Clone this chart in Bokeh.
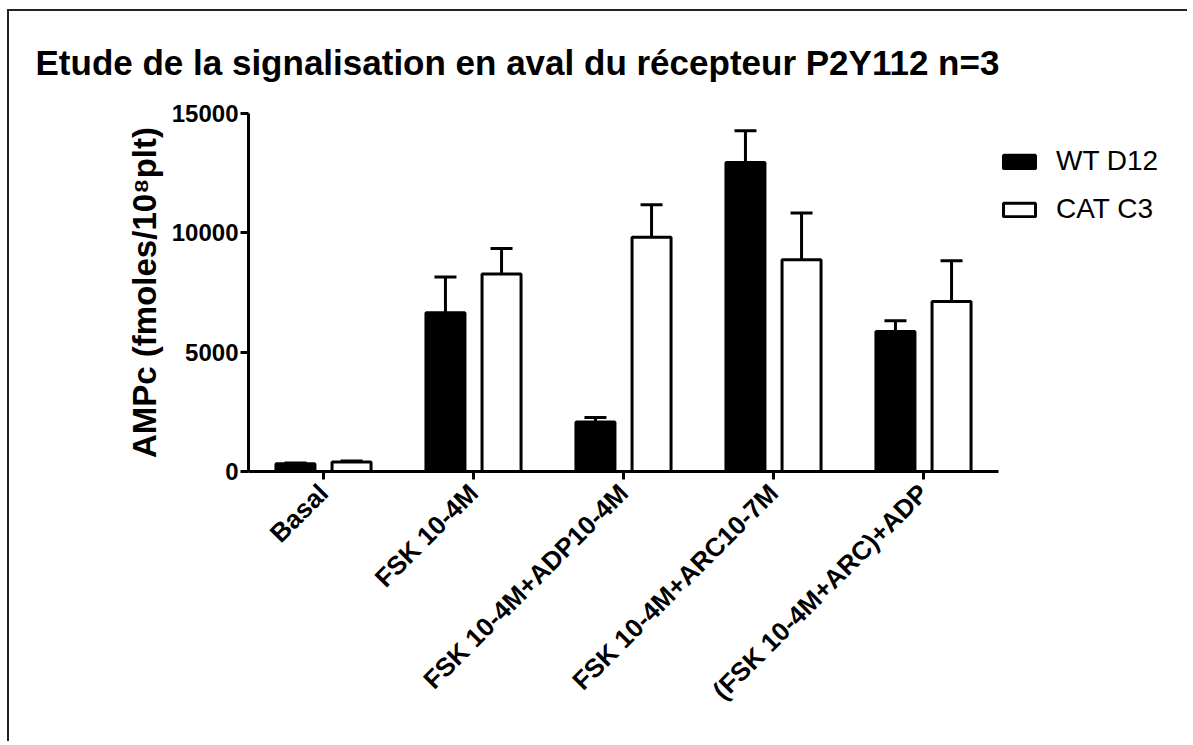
import math
from bokeh.plotting import figure
from bokeh.models import (ColumnDataSource, Range1d, FixedTicker, Whisker,
                          Legend, LegendItem, TeeHead)
from bokeh.transform import dodge
from bokeh.embed import file_html
from bokeh.resources import INLINE

# ---- data ----
categories = ["Basal", "FSK 10-4M", "FSK 10-4M+ADP10-4M", "FSK 10-4M+ARC10-7M", "(FSK 10-4M+ARC)+ADP"]
wt_mean = [320, 6650, 2070, 12950, 5870]
wt_err = [40, 1500, 190, 1330, 450]
cat_mean = [400, 8280, 9820, 8870, 7120]
cat_err = [40, 1060, 1360, 1960, 1710]
series_names = ["WT D12", "CAT C3"]
y_ticks = [0, 5000, 10000, 15000]
title_text = "Etude de la signalisation en aval du récepteur P2Y112 n=3"
y_label = "AMPc (fmoles/10⁸plt)"

FONT = "Liberation Sans"

idx = list(range(len(categories)))
src = ColumnDataSource(dict(
    xi=idx, cat=categories,
    wt=wt_mean, wt_lo=[m - e for m, e in zip(wt_mean, wt_err)], wt_hi=[m + e for m, e in zip(wt_mean, wt_err)],
    ct=cat_mean, ct_lo=[m - e for m, e in zip(cat_mean, cat_err)], ct_hi=[m + e for m, e in zip(cat_mean, cat_err)],
))

W, H = 1180, 732
FL, FT, FH = 239, 102, 358
UNIT = 150            # px per category
EXTRA = 1.2           # extra room (in category units) right of the axis for the legend
FW = int(UNIT * (len(categories) + EXTRA))

p = figure(x_range=Range1d(-0.5, len(categories) - 0.5 + EXTRA), y_range=Range1d(0, 15000),
           width=W, height=H, output_backend="svg", toolbar_location=None,
           min_border_left=FL, min_border_top=FT,
           min_border_right=W - FL - FW, min_border_bottom=H - FT - FH)
p.styles = {"border-top": "2px solid #222", "border-left": "2px solid #222",
            "margin-left": "7px", "margin-top": "9px"}
p.outline_line_color = None
p.grid.visible = False
p.background_fill_color = "white"
p.border_fill_color = "white"

# title
p.title.text = title_text
p.title.align = "left"
p.title.vertical_align = "top"
p.title.offset = -213
p.title.standoff = 59
p.title.text_font = FONT
p.title.text_font_style = "bold"
p.title.text_font_size = "35px"
p.title.text_color = "black"

off = 0.187
bw = 0.26
r_wt = p.vbar(x=dodge("xi", -off), top="wt", bottom=0, width=bw, source=src,
              fill_color="black", line_color="black", line_width=3)
r_ct = p.vbar(x=dodge("xi", off), top="ct", bottom=0, width=bw, source=src,
              fill_color="white", line_color="black", line_width=3)

for lo, hi, o in [("wt_lo", "wt_hi", -off), ("ct_lo", "ct_hi", off)]:
    w = Whisker(base=dodge("xi", o), lower=lo, upper=hi, source=src,
                line_color="black", line_width=3,
                upper_head=TeeHead(size=22, line_width=3, line_color="black"),
                lower_head=TeeHead(size=22, line_width=3, line_color="black"))
    p.add_layout(w)

# axes
p.xaxis.ticker = FixedTicker(ticks=idx)
p.xaxis.major_label_overrides = {i: c for i, c in zip(idx, categories)}
p.xaxis.bounds = (-0.5, len(categories) - 0.5)
p.xaxis.minor_tick_line_color = None
p.yaxis.ticker = FixedTicker(ticks=y_ticks)
p.yaxis.minor_tick_line_color = None
for ax in (p.xaxis[0], p.yaxis[0]):
    ax.axis_line_width = 3
    ax.axis_line_color = "black"
    ax.major_tick_line_width = 3
    ax.major_tick_line_color = "black"
    ax.major_tick_out = 8
    ax.major_tick_in = 0
    ax.major_label_text_font = FONT
    ax.major_label_text_font_style = "bold"
    ax.major_label_text_color = "black"
p.yaxis.major_label_text_font_size = "24px"
p.yaxis.major_label_standoff = 2
p.xaxis.major_label_text_font_size = "26px"
p.xaxis.major_label_orientation = math.pi / 4
p.xaxis.major_label_standoff = 9
p.yaxis.axis_label = y_label
p.yaxis.axis_label_text_font = FONT
p.yaxis.axis_label_text_font_style = "bold"
p.yaxis.axis_label_text_font_size = "33px"
p.yaxis.axis_label_text_color = "black"
p.yaxis.axis_label_standoff = 6

legend = Legend(items=[LegendItem(label=series_names[0], renderers=[r_wt]),
                       LegendItem(label=series_names[1], renderers=[r_ct])],
                location=(UNIT * len(categories) + 1, 246), orientation="vertical",
                glyph_width=40, glyph_height=17, label_standoff=17, spacing=16,
                padding=0, margin=0, border_line_color=None, background_fill_alpha=0,
                label_text_font=FONT, label_text_font_size="28px", label_text_color="black")
p.add_layout(legend, "center")

open("out.html", "w").write(file_html(p, INLINE))
